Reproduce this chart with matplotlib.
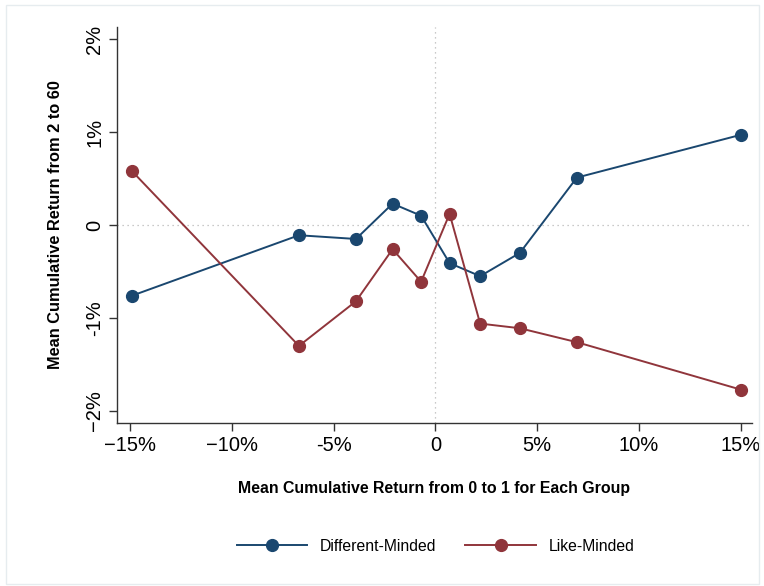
import numpy as np
import matplotlib
matplotlib.use("Agg")
import matplotlib.pyplot as plt
import matplotlib.patches as patches

plt.rcParams['font.family'] = ['Liberation Sans', 'DejaVu Sans']

# x: mean cumulative return from 0 to 1 (%), y: mean cumulative return from 2 to 60 (%)
group_x = [-14.9, -6.7, -3.9, -2.1, -0.7, 0.7, 2.2, 4.15, 6.95, 15.0]
different_minded = [-0.76, -0.11, -0.15, 0.23, 0.10, -0.41, -0.55, -0.30, 0.51, 0.97]
like_minded = [0.58, -1.30, -0.82, -0.26, -0.61, 0.12, -1.06, -1.11, -1.26, -1.77]

x_ticks = [-15, -10, -5, 0, 5, 10, 15]
x_labels = ['\u221215%', '\u221210%', '-5%', '0', '5%', '10%', '15%']
y_ticks = [-2, -1, 0, 1, 2]
y_labels = ['\u22122%', '-1%', '0', '1%', '2%']

blue = '#1a476f'
red = '#90353b'

fig = plt.figure(figsize=(7.64, 5.86), dpi=100)
# faint graph region outline
fig.patches.append(patches.Rectangle((0.008, 0.004), 0.985, 0.988, transform=fig.transFigure,
                                     fill=False, edgecolor='#e6ecef', linewidth=1))
ax = fig.add_axes([0.153, 0.278, 0.831, 0.676])

ax.axhline(0, color='#b8b8b8', linestyle=(0, (1, 3)), linewidth=0.9, zorder=1)
ax.axvline(0, color='#b8b8b8', linestyle=(0, (1, 3)), linewidth=0.9, zorder=1)

ax.plot(group_x, different_minded, color=blue, marker='o', markersize=8.5, linewidth=1.4,
        label='Different-Minded', zorder=3)
ax.plot(group_x, like_minded, color=red, marker='o', markersize=8.5, linewidth=1.4,
        label='Like-Minded', zorder=3)

ax.set_xlim(-15.64, 15.54)
ax.set_ylim(-2.13, 2.13)
ax.set_xticks(x_ticks)
ax.set_xticklabels(x_labels, fontsize=14.5)
ax.set_yticks(y_ticks)
ax.set_yticklabels(y_labels, fontsize=14.5, rotation=90, va='center')

for s in ['top', 'right']:
    ax.spines[s].set_visible(False)
for s in ['left', 'bottom']:
    ax.spines[s].set_color('#333333')
    ax.spines[s].set_linewidth(1.0)
ax.tick_params(direction='out', length=6, width=1, color='#333333', pad=3)

ax.set_xlabel('Mean Cumulative Return from 0 to 1 for Each Group', fontsize=11.4,
              fontweight='bold', labelpad=19)
ax.set_ylabel('Mean Cumulative Return from 2 to 60', fontsize=11.8,
              fontweight='bold', labelpad=16)

fig.legend(loc='center', bbox_to_anchor=(0.570, 0.068), ncol=2, frameon=False,
           fontsize=11.3, handlelength=4.5, columnspacing=1.85, handletextpad=0.8)

fig.savefig('out.png', dpi=100)
